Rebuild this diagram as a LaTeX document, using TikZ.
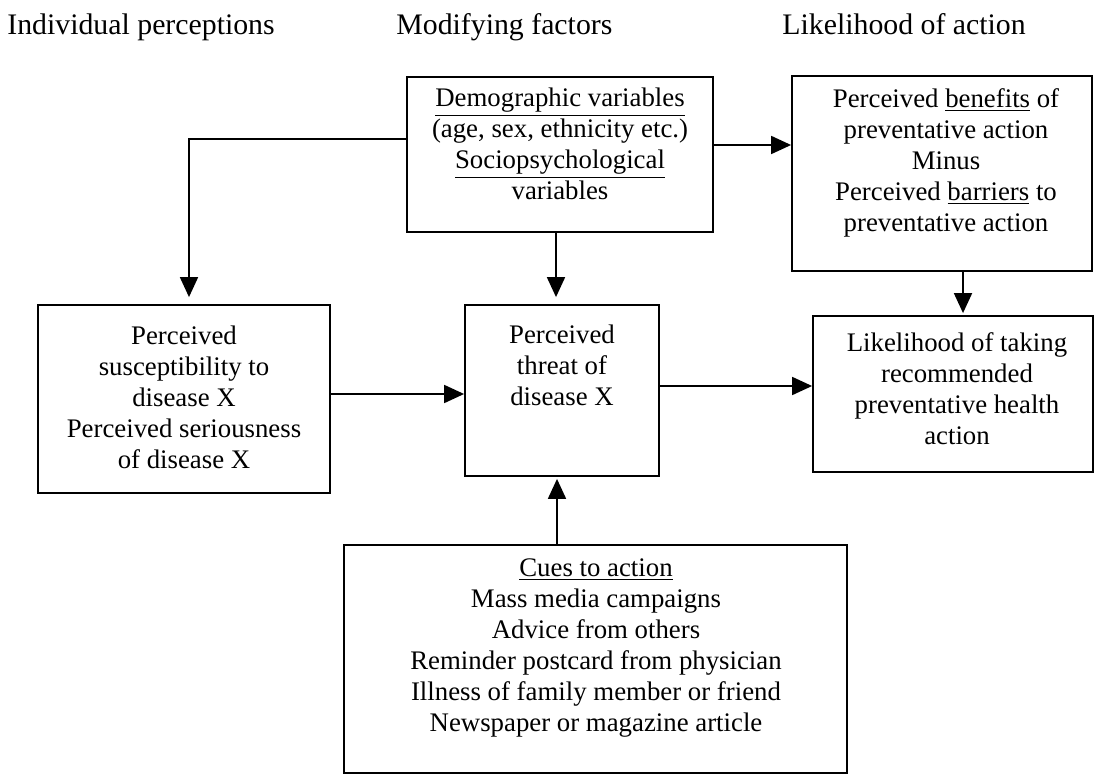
\documentclass[tikz,border=0pt]{standalone}
\usepackage{fontspec}
\setmainfont{Liberation Serif}
\usetikzlibrary{arrows.meta}

\tikzset{
  box/.style={draw, line width=0.9pt, inner sep=0pt},
  txt/.style={align=center, inner sep=0pt, font=\fontsize{13.4}{15.5}\selectfont},
  head/.style={anchor=base west, inner sep=0pt, font=\fontsize{14.9}{17}\selectfont},
  flow/.style={line width=0.9pt, -{Triangle[length=10pt,width=9pt]}}
}

\begin{document}
\begin{tikzpicture}[x=0.5pt,y=-0.5pt]
\useasboundingbox (0,0) rectangle (1096,775);

% column headings
\draw (7,35)   node (hindiv)  [head] {Individual perceptions};
\draw (396,35) node (hmodif)  [head] {Modifying factors};
\draw (782,35) node (hlikely) [head] {Likelihood of action};

% boxes
\draw (560,154.5) node (demo)     [box, minimum width=153pt, minimum height=77.5pt] {};
\draw (942,173.5) node (benefits) [box, minimum width=150pt, minimum height=97.5pt] {};
\draw (184,399)   node (suscept)  [box, minimum width=146pt, minimum height=94pt] {};
\draw (562,390.5) node (threat)   [box, minimum width=97pt,  minimum height=85.5pt] {};
\draw (953,394)   node (likely)   [box, minimum width=140pt, minimum height=78pt] {};
\draw (595.5,659) node (cues)     [box, minimum width=251.5pt, minimum height=114pt] {};

% box texts
\draw (560,144) node (demotxt) [txt] {\underline{Demographic variables}\\(age, sex, ethnicity etc.)\\\underline{Sociopsychological}\\variables};
\draw (946,163) node (benefitstxt) [txt] {Perceived \underline{benefits} of\\preventative action\\Minus\\Perceived \underline{barriers} to\\preventative action};
\draw (184,397) node (suscepttxt) [txt] {Perceived\\susceptibility to\\disease X\\Perceived seriousness\\of disease X};
\draw (562,365) node (threattxt) [txt] {Perceived\\threat of\\disease X};
\draw (957,389) node (likelytxt) [txt] {Likelihood of taking\\recommended\\preventative health\\action};
\draw (596,648) node (cuestxt) [txt] {\underline{Cues to action}\\Mass media campaigns\\Advice from others\\Reminder postcard from physician\\Illness of family member or friend\\Newspaper or magazine article};

% connectors
\draw[flow] ([yshift=7.75pt]demo.west) -| ([xshift=2.5pt,yshift=3.5pt]suscept.north);
\draw[flow] ([xshift=-2pt]demo.south) -- ([xshift=-2pt,yshift=3.5pt]demo.south |- threat.north);
\draw[flow] ([yshift=4.75pt]demo.east) -- ([yshift=4.75pt]demo.east -| benefits.west);
\draw[flow] ([xshift=5pt]likely.north |- benefits.south) -- ([xshift=5pt,yshift=1pt]likely.north);
\draw[flow] ([yshift=2.5pt]suscept.east) -- ([yshift=2.5pt]suscept.east -| threat.west);
\draw[flow] ([yshift=2.25pt]threat.east) -- ([yshift=2.25pt]threat.east -| likely.west);
\draw[flow] ([xshift=-2.5pt]threat.south |- cues.north) -- ([xshift=-2.5pt,yshift=-1pt]threat.south);
\end{tikzpicture}
\end{document}
